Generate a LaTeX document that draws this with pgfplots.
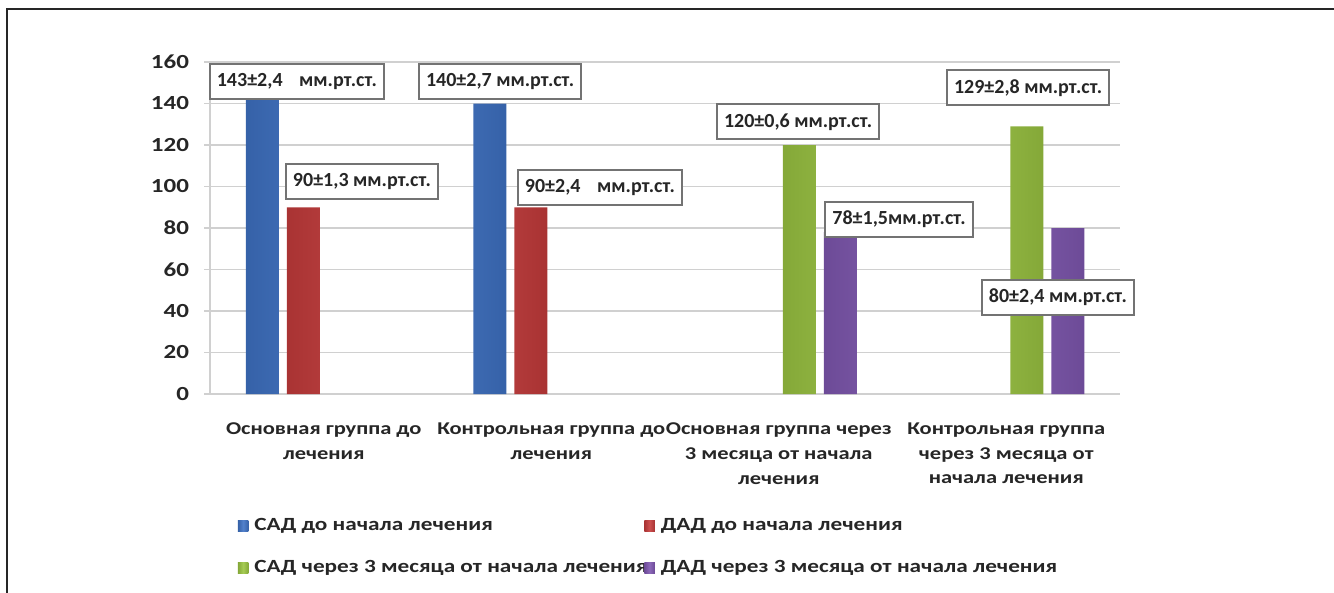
\documentclass[border=0pt]{standalone}
\usepackage{fontspec}
\setmainfont{Carlito}
\newfontfamily\tickfont{Carlito}[FakeStretch=1.25]
\usepackage{pgfplots}
\pgfplotsset{compat=1.18}

\definecolor{sadpre}{HTML}{3F73C6}
\definecolor{dadpre}{HTML}{C73C3C}
\definecolor{sadpost}{HTML}{9CC642}
\definecolor{dadpost}{HTML}{8058B2}
\definecolor{gridgray}{HTML}{D0D0D0}

\tikzset{
  barfill/.style={draw=none, left color=#1!85!black, right color=#1!85!black, middle color=#1!90!white},
  vallbl/.style={draw=black!55, line width=1pt, fill=white, inner xsep=3.5pt,
    minimum height=17.5pt, font=\bfseries, text=black!85},
}

\begin{document}
\begin{tikzpicture}
\useasboundingbox (0,0) rectangle (667pt,-296.5pt);
\draw[line width=1pt, black!85] (3.5pt,-296.5pt) -- (3.5pt,-4.5pt) -- (667pt,-4.5pt);
\begin{axis}[
  at={(105pt,-197pt)}, anchor=south west,
  width=455pt, height=166pt, scale only axis,
  xmin=-0.5, xmax=3.5, ymin=0, ymax=160,
  ytick={0,20,...,160},
  xtick={0,1,2,3},
  xticklabels={
    {Основная группа до\\лечения},
    {Контрольная группа до\\лечения},
    {Основная группа через\\3 месяца от начала\\лечения},
    {Контрольная группа\\через 3 месяца от\\начала лечения}},
  ybar=4pt, bar width=16.5pt,
  ymajorgrids, grid style={gridgray, line width=0.9pt},
  axis lines*=left, axis line style={gridgray, line width=0.9pt},
  x tick style={draw=none},
  y tick style={gridgray, line width=0.9pt},
  major tick length=3pt, tick align=outside,
  tick label style={font=\tickfont\bfseries, text=black!85},
  /pgf/number format/assume math mode=true,
  yticklabel style={xshift=-4pt},
  xticklabel style={align=center, yshift=-8pt,
    font={\tickfont\fontsize{9}{12.3}\selectfont\bfseries}},
  clip=false,
  legend columns=2,
  legend cell align=left,
  legend image code/.code={\fill[#1] (0pt,-2.6pt) rectangle (5.2pt,2.6pt);},
  legend style={at={(0.0303,-0.361)}, anchor=north west, draw=none, fill=none,
    inner sep=0pt, row sep=9.5pt,
    font=\tickfont\fontsize{9.3}{11}\selectfont\bfseries, text=black!85,
    /tikz/every even column/.append style={column sep=0pt},
    /tikz/every odd column/.append style={column sep=1pt}},
]
\addplot[barfill=sadpre]  coordinates {(0,143) (1,140)};
\addlegendentry{\makebox[193pt][l]{САД до начала лечения}}
\addplot[barfill=dadpre]  coordinates {(0,90) (1,90)};
\addlegendentry{ДАД до начала лечения}
\addplot[barfill=sadpost] coordinates {(2,120) (3,129)};
\addlegendentry{\makebox[193pt][l]{САД через 3 месяца от начала лечения}}
\addplot[barfill=dadpost] coordinates {(2,78) (3,80)};
\addlegendentry{ДАД через 3 месяца от начала лечения}

\node[vallbl] at (axis cs:-0.118,150.8) {143±2,4\hspace{0.6em} мм.рт.ст.};
\node[vallbl] at (axis cs:0.775,150.8) {140±2,7 мм.рт.ст.};
\node[vallbl] at (axis cs:0.168,102.2) {90±1,3 мм.рт.ст.};
\node[vallbl] at (axis cs:1.214,99.3) {90±2,4\hspace{0.6em} мм.рт.ст.};
\node[vallbl] at (axis cs:2.085,131.1) {120±0,6 мм.рт.ст.};
\node[vallbl] at (axis cs:3.096,147.5) {129±2,8 мм.рт.ст.};
\node[vallbl] at (axis cs:2.529,84.3) {78±1,5мм.рт.ст.};
\node[vallbl] at (axis cs:3.227,46.7) {80±2,4 мм.рт.ст.};
\end{axis}
\end{tikzpicture}
\end{document}
